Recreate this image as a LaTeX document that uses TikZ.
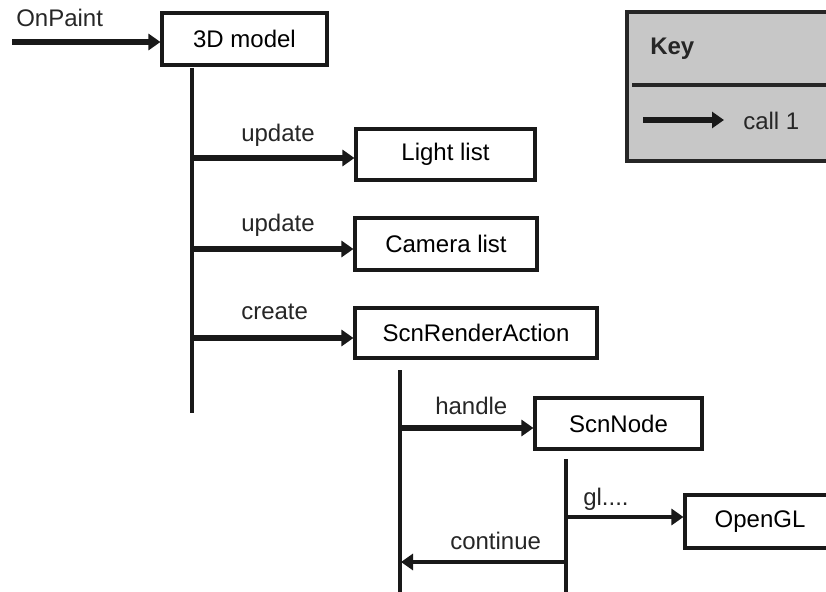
\documentclass[tikz,border=0pt]{standalone}
\usepackage{fontspec}
\setmainfont{Liberation Sans}
\usetikzlibrary{arrows.meta}
\tikzset{
  box/.style={draw=black!90, line width=2.3pt, fill=white, inner sep=0pt,
    font=\fontsize{18}{21}\selectfont},
  lbl/.style={inner sep=0pt, font=\fontsize{18}{21}\selectfont, text=black!85},
  life/.style={draw=black!90, line width=2.3pt},
  call/.style={draw=black!90, line width=4.3pt,
    -{Triangle[length=9pt,width=12pt]}},
  callthin/.style={draw=black!90, line width=3.6pt,
    -{Triangle[length=9pt,width=12pt]}},
}
\begin{document}
\begin{tikzpicture}[x=0.75pt,y=-0.75pt]
\useasboundingbox (0,0) rectangle (826,592);
\clip (0,0) rectangle (826,592);

% objects
\node[box, minimum width=165*0.75pt, minimum height=52*0.75pt] (model) at (244.5,39) {3D model};
\node[box, minimum width=179*0.75pt, minimum height=51*0.75pt] (light) at (445.5,154.5) {Light list};
\node[box, minimum width=182*0.75pt, minimum height=52*0.75pt] (camera) at (446,244) {Camera list};
\node[box, minimum width=242*0.75pt, minimum height=50*0.75pt] (action) at (476,333) {ScnRenderAction};
\node[box, minimum width=167*0.75pt, minimum height=51*0.75pt] (scnnode) at (618.5,423.5) {ScnNode};
\node[box, minimum width=150*0.75pt, minimum height=53*0.75pt] (opengl) at (760,521.5) {OpenGL};

% lifelines
\coordinate (modelTop) at (192,68);
\coordinate (modelBot) at (192,413);
\coordinate (actTop) at (400,370);
\coordinate (actBot) at (400,600);
\coordinate (nodeTop) at (566,459);
\coordinate (nodeBot) at (566,600);
\draw[life] (modelTop) -- (modelBot);
\draw[life] (actTop) -- (actBot);
\draw[life] (nodeTop) -- (nodeBot);

% calls
\coordinate (entry) at (12,42);
\coordinate (upd1) at (192,158);
\coordinate (upd2) at (192,249);
\coordinate (crt) at (192,338);
\coordinate (hdl) at (401,428);
\coordinate (glc) at (566,517);
\coordinate (cont) at (566,562);
\coordinate (contEnd) at (401,562);

\draw[call] (entry) -- (entry -| model.west);
\draw[call] (upd1) -- (upd1 -| light.west);
\draw[call] (upd2) -- (upd2 -| camera.west);
\draw[call] (crt) -- (crt -| action.west);
\draw[call] (hdl) -- (hdl -| scnnode.west);
\draw[callthin] (glc) -- (glc -| opengl.west);
\draw[callthin] (cont) -- (contEnd);

% call labels
\node[lbl, anchor=west] (lOnPaint) at (16,18) {OnPaint};
\node[lbl, anchor=west] (lUpd1) at (241,135) {update};
\node[lbl, anchor=west] (lUpd2) at (241,225) {update};
\node[lbl, anchor=west] (lCreate) at (241,312) {create};
\node[lbl, anchor=west] (lHandle) at (435,406) {handle};
\node[lbl, anchor=west] (lGl) at (583,499) {gl....};
\node[lbl, anchor=west] (lCont) at (450,541) {continue};

% legend
\node[draw=black!85, line width=3pt, fill=black!22, inner sep=0pt,
  minimum width=230*0.75pt, minimum height=149*0.75pt, anchor=north west]
  (key) at (625,10) {};
\coordinate (divL) at (632,85);
\draw[draw=black!85, line width=2.6pt] (divL) -- (divL -| key.east);
\node[lbl, anchor=west, font=\fontsize{18}{21}\selectfont\bfseries] (keyTitle) at (650,49) {Key};
\coordinate (kA) at (643,120);
\coordinate (kB) at (724,120);
\draw[call] (kA) -- (kB);
\node[lbl, anchor=west] (keyCall) at (743,121) {call 1};
\end{tikzpicture}
\end{document}
